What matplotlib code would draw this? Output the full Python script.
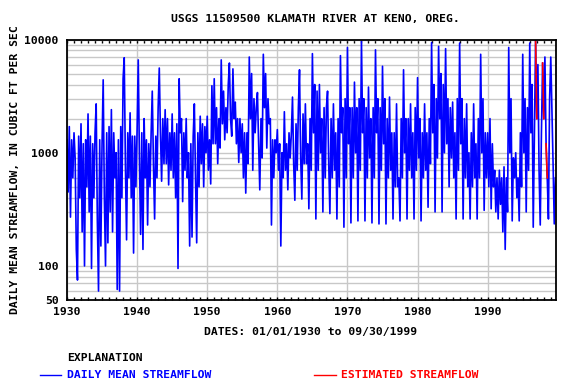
import numpy as np
import pandas as pd
import matplotlib
matplotlib.use("Agg")
import matplotlib.pyplot as plt
import matplotlib.dates as mdates
from matplotlib.lines import Line2D
from matplotlib.ticker import FixedLocator, LogLocator, NullFormatter

# Daily mean streamflow, cfs, sampled every two months (Jan, Mar, May, Jul, Sep, Nov)
flow_1930s = [
    1300, 450, 1700, 270, 1300, 600,
    1500, 900, 140, 75, 1400, 400,
    1800, 200, 1200, 100, 1300, 500,
    2200, 300, 1400, 95, 1200, 400,
    1500, 2700, 250, 60, 1300, 150,
    1200, 4400, 400, 100, 1500, 160,
    1700, 300, 2400, 200, 1500, 600,
    1000, 62, 1300, 60, 1700, 400,
    4500, 6900, 800, 170, 1500, 600,
    2250, 400, 1400, 130, 1400, 500,
]
flow_1940s = [
    1600, 6600, 900, 190, 1500, 140,
    2000, 600, 1300, 230, 1200, 500,
    1500, 3500, 800, 260, 1400, 600,
    2500, 5600, 1500, 560, 2000, 800,
    2400, 800, 2000, 520, 1500, 700,
    2200, 600, 1500, 400, 1800, 95,
    4500, 1500, 2000, 370, 1500, 700,
    2000, 600, 1000, 150, 1200, 180,
    1400, 2700, 600, 160, 1500, 500,
    2100, 800, 1800, 500, 1700, 1000,
]
flow_1950s = [
    2100, 700, 1300, 530, 3900, 1200,
    4500, 1200, 2500, 800, 2000, 1100,
    6600, 1800, 3500, 1300, 2500, 1500,
    4000, 6200, 2000, 1400, 5500, 2000,
    2800, 1200, 2000, 820, 2000, 1000,
    1800, 600, 1500, 440, 1500, 800,
    7000, 2000, 5000, 700, 3000, 1500,
    2500, 3400, 1200, 470, 2000, 900,
    7400, 2500, 5000, 1100, 3000, 1800,
    2000, 230, 1300, 600, 1300, 1000,
]
flow_1960s = [
    1600, 700, 1200, 150, 1000, 600,
    2300, 700, 1200, 470, 1500, 900,
    1500, 3100, 800, 380, 1800, 700,
    2500, 5400, 900, 390, 2200, 800,
    2700, 800, 1200, 320, 2000, 700,
    7500, 1500, 4000, 260, 3500, 700,
    4000, 1000, 2000, 300, 2500, 600,
    2500, 3500, 800, 290, 2000, 600,
    2700, 700, 1500, 260, 2000, 500,
    7200, 1500, 2500, 220, 3000, 600,
]
flow_1970s = [
    8500, 1200, 2500, 240, 2500, 600,
    4200, 1000, 2500, 250, 3000, 700,
    9700, 1500, 3000, 250, 2500, 600,
    3800, 900, 2000, 240, 2500, 600,
    8100, 1500, 3000, 235, 2500, 700,
    5800, 1200, 3000, 235, 2000, 600,
    3100, 700, 1500, 260, 1500, 500,
    2700, 500, 600, 250, 2000, 600,
    5400, 1000, 2000, 260, 2000, 700,
    2700, 600, 1500, 260, 2500, 700,
]
flow_1980s = [
    4600, 900, 2000, 250, 1500, 600,
    2700, 700, 1500, 330, 2000, 800,
    9400, 1500, 4000, 300, 3000, 900,
    8700, 2000, 5000, 300, 4000, 1000,
    8300, 1200, 3000, 500, 2500, 900,
    2800, 600, 1500, 260, 3000, 700,
    9300, 1200, 3000, 260, 2000, 600,
    2700, 500, 1000, 260, 1500, 500,
    2700, 600, 1200, 260, 2000, 600,
    7400, 1000, 3000, 310, 1500, 600,
]
flow_1990s = [
    1500, 500, 2000, 320, 1200, 500,
    700, 300, 600, 260, 700, 350,
    600, 200, 750, 140, 600, 300,
    8500, 1000, 3000, 250, 900, 600,
    1000, 400, 600, 250, 1500, 500,
    7400, 1000, 3000, 300, 2500, 700,
    9300, 1500, 4000, 220, 1500, 9700,
    2000, 6000, 700, 230, 1500, 6200,
    2000, 7000, 1200, 600, 260, 3000,
    7000, 2500, 800, 235, 600,
]
# samples flagged as estimated
estimated_months = ["1996-11", "1997-01", "1997-11", "1998-01", "1998-05", "1998-07"]

flow = np.array(flow_1930s + flow_1940s + flow_1950s + flow_1960s
                + flow_1970s + flow_1980s + flow_1990s, dtype=float)
dates = pd.date_range("1930-01-01", periods=len(flow), freq="2MS")
est = pd.Series(flow, index=dates).where(dates.strftime("%Y-%m").isin(estimated_months))

plt.rcParams["font.family"] = "DejaVu Sans Mono"
plt.rcParams["font.weight"] = "bold"
plt.rcParams["font.size"] = 8.2

fig = plt.figure(figsize=(5.76, 3.84), dpi=100)
ax = fig.add_axes([67 / 576, 1 - 300 / 384, 489 / 576, 260.5 / 384])

ax.plot(dates, flow, color="#0000ff", lw=1.2)
ax.plot(est.index, est.values, color="#ff0000", lw=1.2)

ax.set_yscale("log")
ax.set_ylim(50, 10000)
ax.yaxis.set_major_locator(FixedLocator([50, 100, 1000, 10000]))
ax.yaxis.set_major_formatter(matplotlib.ticker.FuncFormatter(lambda v, p: f"{v:.0f}"))
ax.yaxis.set_minor_locator(LogLocator(base=10, subs=np.arange(2, 10)))
ax.yaxis.set_minor_formatter(NullFormatter())
ax.tick_params(axis="y", which="both", length=0, pad=6)

ax.set_xlim(pd.Timestamp("1930-01-01"), pd.Timestamp("1999-09-30"))
ax.xaxis.set_major_locator(mdates.YearLocator(10))
ax.xaxis.set_minor_locator(mdates.YearLocator(1))
ax.xaxis.set_major_formatter(mdates.DateFormatter("%Y"))
ax.tick_params(axis="x", which="both", direction="in", top=True, length=2.5, width=1, pad=5)

ax.grid(True, axis="y", which="both", color="#c8c8c8", lw=1)
ax.grid(True, axis="x", which="major", color="#c8c8c8", lw=1)
ax.set_axisbelow(True)
for s in ax.spines.values():
    s.set_linewidth(1.3)

fig.text(315 / 576, 1 - 19 / 384, "USGS 11509500 KLAMATH RIVER AT KENO, OREG.",
         ha="center", va="center")
fig.text(15 / 576, 1 - 170 / 384, "DAILY MEAN STREAMFLOW, IN CUBIC FT PER SEC",
         rotation=90, ha="center", va="center")
fig.text(311 / 576, 1 - 332 / 384, "DATES: 01/01/1930 to 09/30/1999",
         ha="center", va="center")

# explanation block
fig.text(67 / 576, 1 - 358 / 384, "EXPLANATION", ha="left", va="center")
fig.add_artist(Line2D([40 / 576, 61 / 576], [1 - 375 / 384] * 2, color="#0000ff", lw=1))
fig.text(67 / 576, 1 - 375 / 384, "DAILY MEAN STREAMFLOW", ha="left", va="center", color="#0000ff")
fig.add_artist(Line2D([314 / 576, 336 / 576], [1 - 375 / 384] * 2, color="#ff0000", lw=1))
fig.text(341 / 576, 1 - 375 / 384, "ESTIMATED STREAMFLOW", ha="left", va="center", color="#ff0000")

fig.savefig("out.png", dpi=100)
